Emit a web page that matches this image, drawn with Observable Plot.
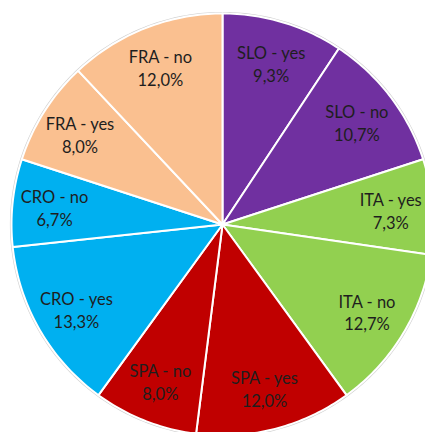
<!DOCTYPE html>
<html>
<head>
<meta charset="utf-8">
<script src="https://cdn.jsdelivr.net/npm/d3@7"></script>
<script src="https://cdn.jsdelivr.net/npm/@observablehq/plot@0.6"></script>
<style>
  html, body { margin: 0; padding: 0; background: #fff; overflow: hidden; }
  #chart svg { display: block; overflow: hidden; }
</style>
</head>
<body>
<div id="chart"></div>
<script>
// Data (clockwise from 12 o'clock)
const labels = ["SLO - yes", "SLO - no", "ITA - yes", "ITA - no", "SPA - yes", "SPA - no", "CRO - yes", "CRO - no", "FRA - yes", "FRA - no"];
const values = [9.3, 10.7, 7.3, 12.7, 12.0, 8.0, 13.3, 6.7, 8.0, 12.0];
const valueText = ["9,3%", "10,7%", "7,3%", "12,7%", "12,0%", "8,0%", "13,3%", "6,7%", "8,0%", "12,0%"];
const groups = ["SLO", "SLO", "ITA", "ITA", "SPA", "SPA", "CRO", "CRO", "FRA", "FRA"];
const groupNames = ["SLO", "ITA", "SPA", "CRO", "FRA"];
const groupColors = ["#7030A0", "#92D050", "#C00000", "#00B0F0", "#FAC090"];

const W = 425, H = 432;
const cx = 222, cy = 224, R = 211;

const slices = labels.map((l, i) => ({label: l, value: values[i], text: valueText[i], group: groups[i]}));
const arcs = d3.pie().sort(null).value(d => d.value)(slices);

// Build slice polygons (unit circle, y up)
const poly = [];
arcs.forEach((a) => {
  const key = a.data.label;
  poly.push({key, group: a.data.group, x: 0, y: 0});
  const n = Math.max(2, Math.ceil((a.endAngle - a.startAngle) / (Math.PI / 180)));
  for (let k = 0; k <= n; k++) {
    const t = a.startAngle + (a.endAngle - a.startAngle) * k / n;
    poly.push({key, group: a.data.group, x: Math.sin(t), y: Math.cos(t)});
  }
  poly.push({key, group: a.data.group, x: 0, y: 0});
});

// faint outer rim
const rim = d3.range(0, 361).map(d => ({x: 1.004 * Math.sin(d * Math.PI / 180), y: 1.004 * Math.cos(d * Math.PI / 180)}));

const labelR = 0.8;
const labelData = arcs.map(a => {
  const m = (a.startAngle + a.endAngle) / 2;
  return {x: labelR * Math.sin(m), y: labelR * Math.cos(m), t: a.data.label + "\n" + a.data.text};
});

const chart = Plot.plot({
  width: W,
  height: H,
  margin: 0,
  style: {background: "#fff", fontFamily: "Lato, sans-serif"},
  x: {domain: [-1, 1], range: [cx - R, cx + R], axis: null},
  y: {domain: [-1, 1], range: [cy + R, cy - R], axis: null},
  color: {domain: groupNames, range: groupColors},
  marks: [
    Plot.line(rim, {x: "x", y: "y", stroke: "#d0d0d0", strokeWidth: 1.5}),
    Plot.line(poly, {x: "x", y: "y", z: "key", fill: "group", stroke: "#fff", strokeWidth: 2, strokeLinejoin: "round", curve: "linear"}),
    Plot.text(labelData, {x: "x", y: "y", text: "t", fill: "#1e1e1e", fontSize: 16.5, lineHeight: 1.38})
  ]
});
document.getElementById("chart").appendChild(chart);
</script>
</body>
</html>
